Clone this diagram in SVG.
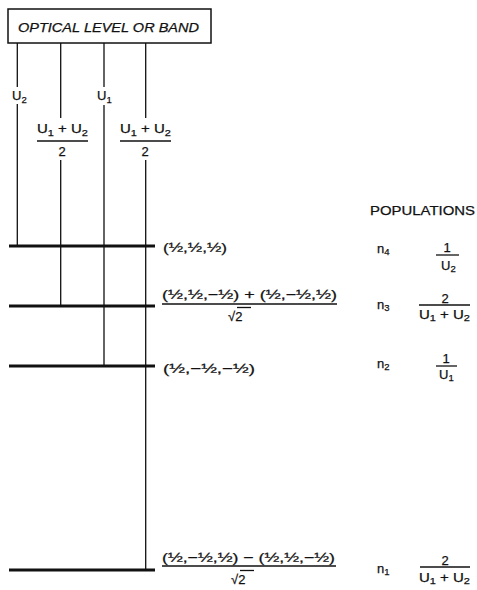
<svg xmlns="http://www.w3.org/2000/svg" width="477" height="590" viewBox="0 0 477 590">
<style>
text{font-family:"Liberation Sans",Arial,sans-serif;fill:#111;font-size:13px;stroke:#111;stroke-width:0.25}
.c{text-anchor:middle}
.sub{font-size:9.5px}
.lvl{stroke:#111;stroke-width:3;fill:none}
.v{stroke:#111;stroke-width:1.3;fill:none}
.bar{stroke:#111;stroke-width:1.3}
</style>
<rect width="477" height="590" fill="#fff"/>
<g id="optical-band">
<rect x="8" y="9" width="203" height="34" fill="none" stroke="#111" stroke-width="1.5"/>
<text x="18" y="32" font-size="15" font-style="italic" textLength="181" lengthAdjust="spacingAndGlyphs">OPTICAL LEVEL OR BAND</text>
</g>
<g id="connectors">
<path class="v" d="M17.3 43V87M17.3 104V246"/>
<path class="v" d="M60.7 43V118M60.7 160V306"/>
<path class="v" d="M104 43V87M104 105V366"/>
<path class="v" d="M145.7 43V118M145.7 160V570"/>
</g>
<g id="label-U2"><text x="12" y="100" font-size="15">U<tspan class="sub" dy="3">2</tspan></text></g>
<g id="label-U1"><text x="97" y="100" font-size="15">U<tspan class="sub" dy="3">1</tspan></text></g>
<g id="label-half-sum-1">
<text x="37" y="133" font-size="15" textLength="51" lengthAdjust="spacingAndGlyphs">U<tspan class="sub" dy="3">1</tspan><tspan dy="-3"> + U</tspan><tspan class="sub" dy="3">2</tspan></text>
<line class="bar" x1="37" y1="141" x2="88" y2="141"/>
<text x="62" y="156" font-size="15" class="c">2</text>
</g>
<g id="label-half-sum-2">
<text x="120" y="133" font-size="15" textLength="51" lengthAdjust="spacingAndGlyphs">U<tspan class="sub" dy="3">1</tspan><tspan dy="-3"> + U</tspan><tspan class="sub" dy="3">2</tspan></text>
<line class="bar" x1="120" y1="141" x2="171" y2="141"/>
<text x="145" y="156" font-size="15" class="c">2</text>
</g>
<g id="level-n4">
<line class="lvl" x1="9" y1="246" x2="155" y2="246"/>
<text x="163" y="252" font-size="14" textLength="64" lengthAdjust="spacingAndGlyphs">(½,½,½)</text>
</g>
<g id="level-n3">
<line class="lvl" x1="9" y1="306" x2="155" y2="306"/>
<text x="162" y="299" font-size="14" textLength="175" lengthAdjust="spacingAndGlyphs">(½,½,−½) + (½,−½,½)</text>
<line class="bar" x1="162" y1="304" x2="337" y2="304"/>
<text x="228" y="321" font-size="17">√2</text>
<line class="bar" x1="237" y1="307.5" x2="251" y2="307.5"/>
</g>
<g id="level-n2">
<line class="lvl" x1="9" y1="366" x2="155" y2="366"/>
<text x="163" y="373" font-size="14" textLength="92" lengthAdjust="spacingAndGlyphs">(½,−½,−½)</text>
</g>
<g id="level-n1">
<line class="lvl" x1="9" y1="570" x2="155" y2="570"/>
<text x="162" y="562" font-size="14" textLength="173" lengthAdjust="spacingAndGlyphs">(½,−½,½) − (½,½,−½)</text>
<line class="bar" x1="162" y1="566" x2="336" y2="566"/>
<text x="231" y="584" font-size="17">√2</text>
<line class="bar" x1="240" y1="570.5" x2="254" y2="570.5"/>
</g>
<g id="populations">
<text x="370" y="215" textLength="105" lengthAdjust="spacingAndGlyphs">POPULATIONS</text>
<text x="377" y="253" font-size="14">n<tspan class="sub" dy="2">4</tspan></text>
<text x="447" y="252" font-size="14" class="c">1</text>
<line class="bar" x1="436" y1="255" x2="459" y2="255"/>
<text x="441" y="270" font-size="15">U<tspan class="sub" dy="2">2</tspan></text>
<text x="377" y="309" font-size="14">n<tspan class="sub" dy="2">3</tspan></text>
<text x="445" y="303" font-size="15" class="c">2</text>
<line class="bar" x1="419" y1="305" x2="470" y2="305"/>
<text x="419" y="319" font-size="15" textLength="51" lengthAdjust="spacingAndGlyphs">U<tspan class="sub" dy="2">1</tspan><tspan dy="-2"> + U</tspan><tspan class="sub" dy="2">2</tspan></text>
<text x="377" y="368" font-size="14">n<tspan class="sub" dy="2">2</tspan></text>
<text x="446" y="363" font-size="14" class="c">1</text>
<line class="bar" x1="436" y1="366" x2="457" y2="366"/>
<text x="439" y="379" font-size="15">U<tspan class="sub" dy="2">1</tspan></text>
<text x="377" y="573" font-size="14">n<tspan class="sub" dy="2">1</tspan></text>
<text x="445" y="565" font-size="15" class="c">2</text>
<line class="bar" x1="420" y1="567" x2="470" y2="567"/>
<text x="419" y="582" font-size="15" textLength="51" lengthAdjust="spacingAndGlyphs">U<tspan class="sub" dy="2">1</tspan><tspan dy="-2"> + U</tspan><tspan class="sub" dy="2">2</tspan></text>
</g>
</svg>
